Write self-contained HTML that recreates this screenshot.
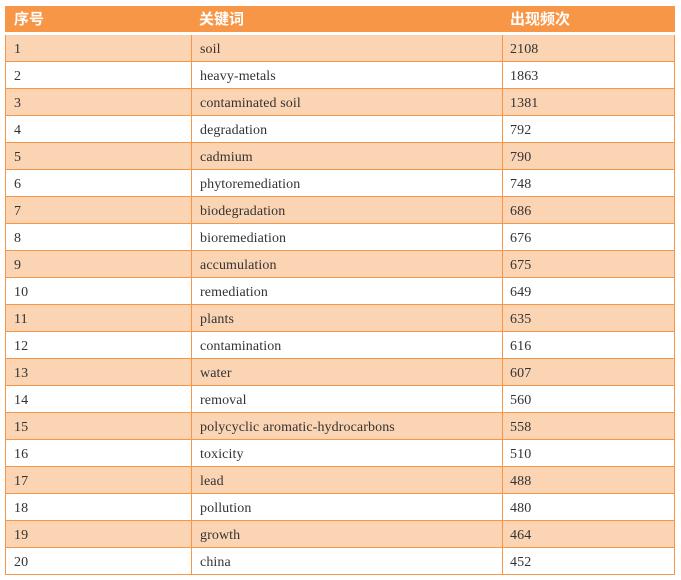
<!DOCTYPE html>
<html>
<head>
<meta charset="utf-8">
<style>
  html, body { margin:0; padding:0; background:#ffffff; }
  body { width:681px; height:580px; position:relative; overflow:hidden; }
  .hdr { position:absolute; left:5px; top:6px; width:670px; height:26px; background:#f79646; }
  .hdr span { position:absolute; top:1px; height:26px; line-height:26px; color:#ffffff; font-weight:bold;
    font-family:"Liberation Sans","Noto Sans CJK SC",sans-serif; font-size:15px; }
  .row { position:absolute; left:5px; width:670px; height:26px; border-bottom:1px solid #f79646; }
  .row.s { background:#fbd4b4; }
  .row span { position:absolute; top:2px; height:26px; line-height:26px; color:#333333;
    font-family:"Liberation Serif","Times New Roman",serif; font-size:14px; letter-spacing:0.1px; white-space:nowrap; }
  .c1 { left:9px; } .c2 { left:195px; } .c3 { left:505px; }
  .vl { position:absolute; top:35px; width:1px; height:540px; background:#f79646; }
</style>
</head>
<body>
<div class="hdr">
  <span style="left:9px">序号</span>
  <span style="left:194px">关键词</span>
  <span style="left:505px">出现频次</span>
</div>

<div class="row s" style="top:35px"><span class="c1">1</span><span class="c2">soil</span><span class="c3">2108</span></div>
<div class="row" style="top:62px"><span class="c1">2</span><span class="c2">heavy-metals</span><span class="c3">1863</span></div>
<div class="row s" style="top:89px"><span class="c1">3</span><span class="c2">contaminated soil</span><span class="c3">1381</span></div>
<div class="row" style="top:116px"><span class="c1">4</span><span class="c2">degradation</span><span class="c3">792</span></div>
<div class="row s" style="top:143px"><span class="c1">5</span><span class="c2">cadmium</span><span class="c3">790</span></div>
<div class="row" style="top:170px"><span class="c1">6</span><span class="c2">phytoremediation</span><span class="c3">748</span></div>
<div class="row s" style="top:197px"><span class="c1">7</span><span class="c2">biodegradation</span><span class="c3">686</span></div>
<div class="row" style="top:224px"><span class="c1">8</span><span class="c2">bioremediation</span><span class="c3">676</span></div>
<div class="row s" style="top:251px"><span class="c1">9</span><span class="c2">accumulation</span><span class="c3">675</span></div>
<div class="row" style="top:278px"><span class="c1">10</span><span class="c2">remediation</span><span class="c3">649</span></div>
<div class="row s" style="top:305px"><span class="c1">11</span><span class="c2">plants</span><span class="c3">635</span></div>
<div class="row" style="top:332px"><span class="c1">12</span><span class="c2">contamination</span><span class="c3">616</span></div>
<div class="row s" style="top:359px"><span class="c1">13</span><span class="c2">water</span><span class="c3">607</span></div>
<div class="row" style="top:386px"><span class="c1">14</span><span class="c2">removal</span><span class="c3">560</span></div>
<div class="row s" style="top:413px"><span class="c1">15</span><span class="c2">polycyclic aromatic-hydrocarbons</span><span class="c3">558</span></div>
<div class="row" style="top:440px"><span class="c1">16</span><span class="c2">toxicity</span><span class="c3">510</span></div>
<div class="row s" style="top:467px"><span class="c1">17</span><span class="c2">lead</span><span class="c3">488</span></div>
<div class="row" style="top:494px"><span class="c1">18</span><span class="c2">pollution</span><span class="c3">480</span></div>
<div class="row s" style="top:521px"><span class="c1">19</span><span class="c2">growth</span><span class="c3">464</span></div>
<div class="row" style="top:548px"><span class="c1">20</span><span class="c2">china</span><span class="c3">452</span></div>

<div class="vl" style="left:5px"></div>
<div class="vl" style="left:191px"></div>
<div class="vl" style="left:502px"></div>
<div class="vl" style="left:674px"></div>
</body>
</html>
